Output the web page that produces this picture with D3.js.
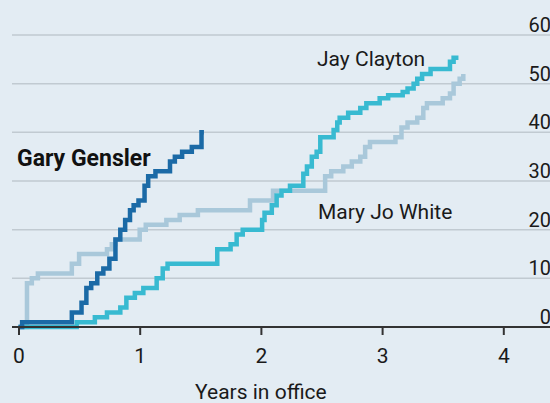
<!DOCTYPE html>
<html>
<head>
<meta charset="utf-8">
<script src="https://cdn.jsdelivr.net/npm/d3@7"></script>
<style>
  html, body { margin: 0; padding: 0; background: #e3ecf3; }
  svg { display: block; font-family: Roboto, "Open Sans", sans-serif; }
</style>
</head>
<body>
<div id="chart-area"></div>
<script>
// cumulative count by years in office
const genslerYears = [0, 0.03, 0.44, 0.52, 0.56, 0.60, 0.65, 0.70, 0.75, 0.80, 0.84, 0.88, 0.92, 0.95, 0.99, 1.04, 1.07, 1.13, 1.25, 1.29, 1.35, 1.43, 1.51, 1.53];
const genslerCount = [0, 1, 3, 5, 8, 9, 11, 12, 14, 18, 20, 22, 24, 25, 26, 29, 31, 32, 34, 35, 36, 37, 40, 40];

const claytonYears = [0, 0.48, 0.63, 0.73, 0.84, 0.89, 0.96, 1.03, 1.14, 1.19, 1.23, 1.64, 1.75, 1.80, 1.85, 2.01, 2.03, 2.09, 2.13, 2.17, 2.24, 2.35, 2.38, 2.42, 2.46, 2.49, 2.60, 2.63, 2.65, 2.72, 2.82, 2.87, 2.98, 3.05, 3.17, 3.21, 3.26, 3.29, 3.33, 3.40, 3.56, 3.59, 3.63];
const claytonCount = [0, 1, 2, 3, 4, 6, 7, 8, 10, 12, 13, 16, 17, 19, 20, 22, 23.5, 25, 27, 28, 29, 31.5, 33, 35, 36, 39, 40.5, 42, 43, 44, 45, 46, 47, 47.6, 48.3, 49, 50, 51, 52, 53, 54.5, 55.3, 55.3];

const whiteYears = [0, 0.07, 0.11, 0.16, 0.44, 0.50, 0.73, 0.77, 0.80, 1.00, 1.05, 1.22, 1.33, 1.48, 1.91, 2.10, 2.53, 2.58, 2.68, 2.75, 2.82, 2.86, 2.90, 3.11, 3.16, 3.21, 3.29, 3.34, 3.37, 3.50, 3.56, 3.59, 3.64, 3.67];
const whiteCount = [0, 9, 10, 11, 13, 15, 16, 17, 18, 20, 21, 22, 23, 24, 26, 28, 31, 32, 33, 34, 35, 37, 38, 39, 41, 42, 43, 45, 46, 47, 48, 50, 51, 52];

const yTicks = [0, 10, 20, 30, 40, 50, 60];
const xTicks = [0, 1, 2, 3, 4];

const widthSvg = 550;
const heightSvg = 403;

const scaleX = d3.scaleLinear().domain([0, 4]).range([18.5, 503.3]);
const scaleY = d3.scaleLinear().domain([0, 60]).range([327, 35]);

const svg = d3.select('#chart-area').append('svg')
  .attr('width', widthSvg)
  .attr('height', heightSvg);

svg.append('rect')
  .attr('width', widthSvg)
  .attr('height', heightSvg)
  .attr('fill', '#e3ecf3');

// gridlines + right-hand labels
const grid = svg.append('g');
grid.selectAll('line')
  .data(yTicks.filter(d => d > 0))
  .enter().append('line')
    .attr('x1', 12)
    .attr('x2', widthSvg)
    .attr('y1', d => scaleY(d))
    .attr('y2', d => scaleY(d))
    .attr('stroke', '#c1cad1')
    .attr('stroke-width', 1.5);

grid.selectAll('text')
  .data(yTicks)
  .enter().append('text')
    .attr('x', 551)
    .attr('y', d => scaleY(d) - 3)
    .attr('text-anchor', 'end')
    .attr('font-size', '20px')
    .attr('fill', '#1a1a1a')
    .text(d => d);

const series = [
  { name: 'White', years: whiteYears, count: whiteCount, color: '#a9c8da' },
  { name: 'Clayton', years: claytonYears, count: claytonCount, color: '#38bad1' },
  { name: 'Gensler', years: genslerYears, count: genslerCount, color: '#1b6aa6' },
];

const line = d3.line()
  .x(d => scaleX(d[0]))
  .y(d => scaleY(d[1]))
  .curve(d3.curveStepAfter);

svg.append('g').selectAll('path')
  .data(series)
  .enter().append('path')
    .attr('d', s => line(s.years.map((y, i) => [y, s.count[i]])))
    .attr('fill', 'none')
    .attr('stroke', s => s.color)
    .attr('stroke-width', 4.5)
    .attr('stroke-linejoin', 'miter');

// x axis
const axisX = d3.axisBottom(scaleX)
  .tickValues(xTicks)
  .tickSize(8)
  .tickPadding(13)
  .tickFormat(d3.format('d'));

const axisGroupX = svg.append('g')
  .attr('transform', `translate(0, ${scaleY(0)})`)
  .call(axisX);

axisGroupX.select('.domain').remove();
axisGroupX.selectAll('line').attr('stroke', '#333').attr('stroke-width', 2);
axisGroupX.selectAll('text')
  .attr('font-family', 'Roboto, sans-serif')
  .attr('font-size', '21px')
  .attr('fill', '#1a1a1a');

svg.append('line')
  .attr('x1', 12)
  .attr('x2', widthSvg)
  .attr('y1', scaleY(0))
  .attr('y2', scaleY(0))
  .attr('stroke', '#333')
  .attr('stroke-width', 2);

svg.append('text')
  .text('Years in office')
    .attr('x', scaleX(2))
    .attr('y', 399)
    .attr('text-anchor', 'middle')
    .attr('font-size', '21px')
    .attr('fill', '#1a1a1a');

// series labels
svg.append('text')
  .text('Gary Gensler')
    .attr('x', 17)
    .attr('y', 166)
    .attr('font-size', '23px')
    .attr('font-weight', 'bold')
    .attr('fill', '#111');

svg.append('text')
  .text('Jay Clayton')
    .attr('x', 317)
    .attr('y', 66)
    .attr('font-size', '21px')
    .attr('fill', '#1a1a1a');

svg.append('text')
  .text('Mary Jo White')
    .attr('x', 318)
    .attr('y', 219)
    .attr('font-size', '21px')
    .attr('fill', '#1a1a1a');
</script>
</body>
</html>
